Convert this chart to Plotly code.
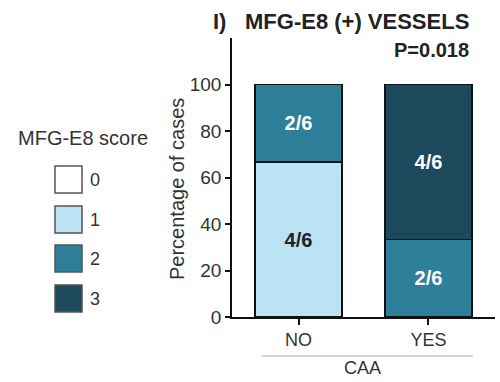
import plotly.graph_objects as go

# CAA status groups and the number of cases per MFG-E8 score in each
groups = ["NO", "YES"]
score_names = ["0", "1", "2", "3"]
score_counts = {
    "0": [0, 0],
    "1": [4, 0],
    "2": [2, 2],
    "3": [0, 4],
}
group_totals = [6, 6]

score_colors = {"0": "#FFFFFF", "1": "#BBE3F3", "2": "#2E7F9A", "3": "#1C4A5C"}
label_colors = {"0": "#222222", "1": "#222222", "2": "#FFFFFF", "3": "#FFFFFF"}

y_ticks = [0, 20, 40, 60, 80, 100]

FONT = "Arial, Liberation Sans, sans-serif"
TXT = "#333333"

# plot area in pixels
W, H = 500, 382
L, R, T, B = 232, 495, 38, 317


def px(x):
    return (x - L) / (R - L)


def py(y):
    return (B - y) / (B - T)


fig = go.Figure()
for s in score_names:
    vals, texts = [], []
    for c, tot in zip(score_counts[s], group_totals):
        if c > 0:
            vals.append(c / tot * 100)
            texts.append(f"{c}/{tot}")
        else:
            vals.append(None)
            texts.append("")
    fig.add_trace(go.Bar(
        x=groups, y=vals, text=texts, name=s,
        marker=dict(color=score_colors[s], line=dict(color="#111111", width=1.5)),
        textposition="inside", insidetextanchor="middle",
        textfont=dict(family=FONT, size=20, color=label_colors[s], weight="bold"),
        width=0.67, showlegend=False,
    ))

fig.update_layout(
    barmode="stack",
    width=W, height=H,
    margin=dict(l=L, r=W - R, t=T, b=H - B, pad=0),
    paper_bgcolor="white", plot_bgcolor="white",
    font=dict(family=FONT, size=18, color=TXT),
    uniformtext=dict(mode=False),
)
fig.update_xaxes(
    range=[-0.512, 1.512], showline=True, linecolor="#111111", linewidth=1.5,
    ticks="outside", ticklen=6, tickwidth=1.5, tickcolor="#111111",
    showgrid=False, zeroline=False, fixedrange=True,
    tickfont=dict(family=FONT, size=18, color=TXT),
)
fig.update_yaxes(
    range=[0, 120], tickvals=y_ticks, showline=True, linecolor="#111111",
    linewidth=1.5, ticks="outside", ticklen=5, tickwidth=1.5, tickcolor="#111111",
    showgrid=False, zeroline=False, fixedrange=True,
    tickfont=dict(family=FONT, size=19, color=TXT),
)

shapes = []
annotations = []

# small extension of the x axis baseline to the left of the y axis
shapes.append(dict(type="line", xref="paper", yref="paper",
                   x0=px(226), x1=px(L), y0=0, y1=0,
                   line=dict(color="#111111", width=1.5)))

# grouping bracket under the categories
shapes.append(dict(type="line", xref="paper", yref="paper",
                   x0=px(262), x1=px(473), y0=py(356), y1=py(356),
                   line=dict(color="#A8A8A8", width=1.2)))
annotations.append(dict(text="CAA", xref="paper", yref="paper",
                        x=px(362), y=py(368), showarrow=False,
                        xanchor="center", yanchor="middle",
                        font=dict(family=FONT, size=18, color=TXT)))

# y axis title
annotations.append(dict(text="Percentage of cases", xref="paper", yref="paper",
                        x=px(177), y=py(189), showarrow=False, textangle=-90,
                        xanchor="center", yanchor="middle",
                        font=dict(family=FONT, size=20, color=TXT)))

# panel title and p-value
annotations.append(dict(text="<b>I)</b>", xref="paper", yref="paper",
                        x=px(211), y=py(22), showarrow=False,
                        xanchor="left", yanchor="middle",
                        font=dict(family=FONT, size=22, color="#222222")))
annotations.append(dict(text="<b>MFG-E8 (+) VESSELS</b>", xref="paper", yref="paper",
                        x=px(471), y=py(22), showarrow=False,
                        xanchor="right", yanchor="middle",
                        font=dict(family=FONT, size=22, color="#222222")))
annotations.append(dict(text="<b>P=0.018</b>", xref="paper", yref="paper",
                        x=px(471), y=py(50), showarrow=False,
                        xanchor="right", yanchor="middle",
                        font=dict(family=FONT, size=20, color="#222222")))

# score key
annotations.append(dict(text="MFG-E8 score", xref="paper", yref="paper",
                        x=px(83), y=py(138), showarrow=False,
                        xanchor="center", yanchor="middle",
                        font=dict(family=FONT, size=20, color=TXT)))
box_tops = [166, 206, 245, 285]
for s, top in zip(score_names, box_tops):
    shapes.append(dict(type="rect", xref="paper", yref="paper",
                       x0=px(55), x1=px(82), y0=py(top + 27), y1=py(top),
                       fillcolor=score_colors[s],
                       line=dict(color="#555555", width=1.5)))
    annotations.append(dict(text=s, xref="paper", yref="paper",
                            x=px(88), y=py(top + 14), showarrow=False,
                            xanchor="left", yanchor="middle",
                            font=dict(family=FONT, size=18, color=TXT)))

fig.update_layout(shapes=shapes, annotations=annotations)
fig.write_html("out.html")
